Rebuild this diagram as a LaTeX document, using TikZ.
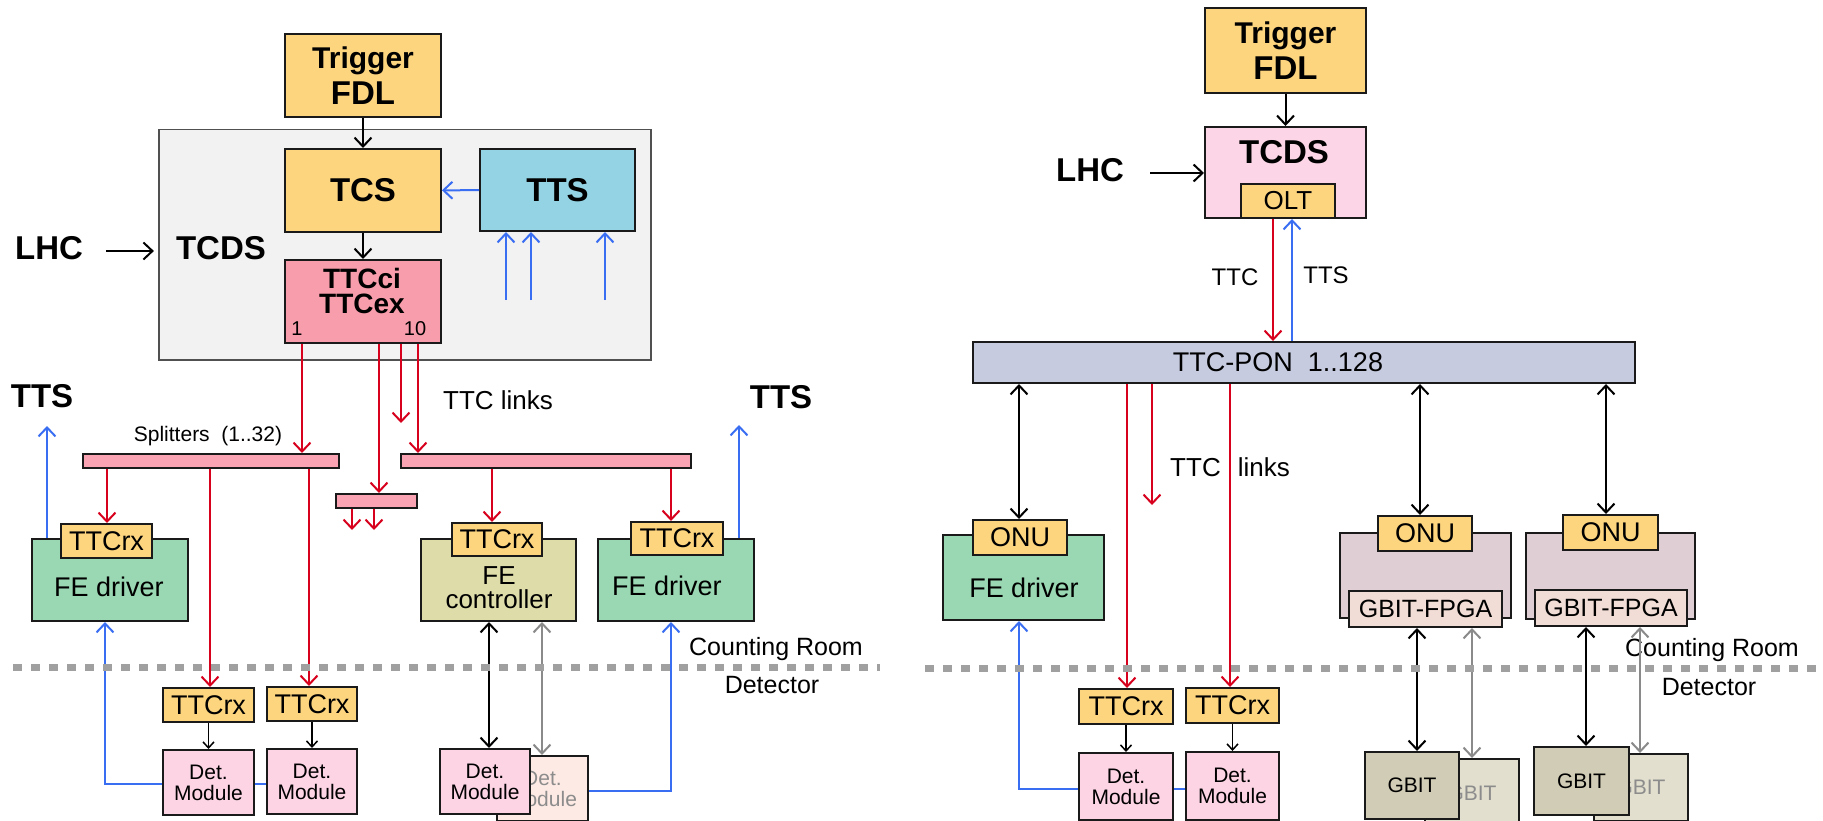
\documentclass[tikz,border=0pt]{standalone}
\usepackage{fontspec}
\setmainfont{Liberation Sans}
\usetikzlibrary{arrows.meta}
\definecolor{cOrange}{HTML}{FDD57F}
\definecolor{cBg}{HTML}{F2F2F2}
\definecolor{cBgLine}{HTML}{505050}
\definecolor{cTTS}{HTML}{93D3E3}
\definecolor{cTTCci}{HTML}{F89DAB}
\definecolor{cSplit}{HTML}{F9A3B3}
\definecolor{cGreen}{HTML}{9AD8B3}
\definecolor{cKhaki}{HTML}{DEDCA9}
\definecolor{cDet}{HTML}{FCD4E4}
\definecolor{cGhost}{HTML}{FDEAE4}
\definecolor{cTcds}{HTML}{FCD6E6}
\definecolor{cPon}{HTML}{C6CBDF}
\definecolor{cMauve}{HTML}{DFCED4}
\definecolor{cPeach}{HTML}{F2DDD6}
\definecolor{cGbit}{HTML}{D1CCB5}
\definecolor{cGbitB}{HTML}{E2DFCF}
\definecolor{cRed}{HTML}{D7001D}
\definecolor{cBlue}{HTML}{3A6EF2}
\definecolor{cGArr}{HTML}{8A8A8A}
\definecolor{cDash}{HTML}{A0A0A0}
\definecolor{cGTxt}{HTML}{8C8C8C}
\definecolor{cLine}{HTML}{1A1A1A}
\pgfdeclarelayer{bg}
\pgfsetlayers{bg,main}
\newcommand\placebox[7]{\node[#6,anchor=north west,minimum width={(#4)-(#2)},minimum height={(#5)-(#3)}] (#1) at (#2,#3) {#7};}
\tikzset{
  box/.style={draw=cLine, line width=2pt, inner sep=0pt, align=center},
  bgbox/.style={draw=cBgLine, line width=1.5pt, fill=cBg, inner sep=0pt},
  lbl/.style={inner sep=0pt, align=center},
  fB/.style={font=\fontsize{33}{36}\selectfont\bfseries},
  fTrig/.style={font=\fontsize{33}{36}\selectfont\bfseries},
  fTTC/.style={font=\fontsize{28}{25}\selectfont\bfseries},
  f27/.style={font=\fontsize{27}{27}\selectfont},
  f26/.style={font=\fontsize{26}{24}\selectfont},
  f25/.style={font=\fontsize{25}{25}\selectfont},
  f24/.style={font=\fontsize{24}{24}\selectfont},
  f21/.style={font=\fontsize{21}{21}\selectfont},
  f20/.style={font=\fontsize{20}{20}\selectfont},
  tipbig/.tip={Straight Barb[length=9pt,width=17pt]},
  tipsmall/.tip={Straight Barb[length=6pt,width=11pt]},
  redarr/.style={draw=cRed, line width=2pt, -tipbig},
  bluarr/.style={draw=cBlue, line width=2pt, -tipbig},
  blkarr/.style={draw=black, line width=2pt, -tipbig},
  smallarr/.style={draw=black, line width=1.5pt, -tipsmall},
  dblarr/.style={draw=black, line width=2pt, tipbig-tipbig},
  gdblarr/.style={draw=cGArr, line width=2pt, tipbig-tipbig},
  dashline/.style={draw=cDash, line width=7pt, dash pattern=on 9pt off 9pt},
}
\begin{document}
\begin{tikzpicture}[x=1pt,y=-1pt]
\useasboundingbox (0,0) rectangle (1823,821);
\clip (0,0) rectangle (1823,821);
% ---------------- coordinates for vertical connectors
\foreach \xx in {47,105,107,209,210,302,309,379,401,418,489,492,542,671,739,
  1019,1127,1152,1230,1273,1292,1417,1420,1472,1586,1606,1640}
  {\coordinate (x\xx) at (\xx,0);}

% ================= LEFT DIAGRAM =================
\placebox{tcdsbg}{158}{129}{650}{359}{bgbox}{}
\placebox{trigL}{284}{33}{440}{116}{box,fill=cOrange,fTrig}{{\fontsize{30}{36}\selectfont Trigger}\\FDL}
\placebox{tcs}{284}{148}{440}{231}{box,fill=cOrange,fB}{TCS}
\placebox{ttsL}{479}{148}{634}{230}{box,fill=cTTS,fB}{TTS}
\placebox{ttcci}{284}{259}{440}{342}{box,fill=cTTCci}{}
\node[lbl,fTTC] (ttcciT) at (362,291) {TTCci\\TTCex};
\node[lbl,f20] (port1) at (297,329) {1};
\node[lbl,f20] (port10) at (415,329) {10};
\node[lbl,fB] (lhcL) at (49,248) {LHC};
\node[lbl,fB] (tcdsLbl) at (221,248) {TCDS};
\draw[blkarr] ([xshift=23pt,yshift=-3pt]lhcL.east) -- ([xshift=-22pt,yshift=-3pt]tcdsLbl.west);
\draw[blkarr] (trigL) -- (tcs);
\draw[bluarr] (ttsL) -- (tcs);
\draw[blkarr] (tcs) -- (ttcci);
\coordinate (ti1) at (506,300);
\coordinate (ti2) at (531,300);
\coordinate (ti3) at (605,300);
\draw[bluarr] (ti1) -- (ti1 |- ttsL.south);
\draw[bluarr] (ti2) -- (ti2 |- ttsL.south);
\draw[bluarr] (ti3) -- (ti3 |- ttsL.south);

% splitters
\placebox{splL}{82}{453}{338}{467}{box,fill=cSplit}{}
\placebox{splM}{335}{493}{416}{507}{box,fill=cSplit}{}
\placebox{splR}{400}{453}{690}{467}{box,fill=cSplit}{}
\node[lbl,f21] (splLbl) at (208,436) {Splitters\ \ (1..32)};
\node[lbl,f26] (ttclinksL) at (498,400) {TTC links};
\draw[redarr] (ttcci.south -| x302) -- (splL.north -| x302);
\draw[redarr] (ttcci.south -| x379) -- (splM.north -| x379);
\coordinate (freeL) at (401,423);
\draw[redarr] (ttcci.south -| freeL) -- (freeL);
\draw[redarr] (ttcci.south -| x418) -- (splR.north -| x418);
\coordinate (sm1) at (352,530);
\coordinate (sm2) at (374,530);
\draw[redarr] (splM.south -| sm1) -- (sm1);
\draw[redarr] (splM.south -| sm2) -- (sm2);

% FE drivers / controller
\placebox{fedL}{31}{538}{187}{620}{box,fill=cGreen}{}
\node[lbl,f27] (fedLT) at (109,587) {FE driver};
\placebox{rxL}{60}{523}{151}{557}{box,fill=cOrange,f27}{TTCrx}
\placebox{fec}{420}{538}{575}{620}{box,fill=cKhaki}{}
\node[lbl,font=\fontsize{26}{24}\selectfont] (fecT) at (499,588) {FE\\controller};
\placebox{rxC}{451}{522}{541}{555}{box,fill=cOrange,f27}{TTCrx}
\placebox{fedR}{597}{538}{753}{620}{box,fill=cGreen}{}
\node[lbl,f27] (fedRT) at (667,586) {FE driver};
\placebox{rxR}{630}{521}{722}{554}{box,fill=cOrange,f27}{TTCrx}
\draw[redarr] (splL.south -| x107) -- (rxL.north -| x107);
\draw[redarr] (splR.south -| x492) -- (rxC.north -| x492);
\draw[redarr] (splR.south -| x671) -- (rxR.north -| x671);
\node[lbl,fB] (ttsOutL) at (42,396) {TTS};
\node[lbl,fB] (ttsOutR) at (781,397) {TTS};
\coordinate (tsoL) at (47,426);
\coordinate (tsoR) at (739,425);
\draw[bluarr] (fedL.north -| tsoL) -- (tsoL);
\draw[bluarr] (fedR.north -| tsoR) -- (tsoR);

% detector modules
\placebox{rx1}{162}{687}{253}{721}{box,fill=cOrange,f27}{TTCrx}
\placebox{rx2}{266}{686}{356}{720}{box,fill=cOrange,f27}{TTCrx}
\placebox{dm1}{162}{749}{253}{814}{box,fill=cDet,f21}{Det.\\Module}
\placebox{dm2}{266}{748}{356}{813}{box,fill=cDet,f21}{Det.\\Module}
\draw[redarr] (splL.south -| x210) -- (rx1.north -| x210);
\draw[redarr] (splL.south -| x309) -- (rx2.north -| x309);
\draw[smallarr] (rx1) -- (dm1);
\draw[smallarr] (rx2) -- (dm2);
\begin{pgfonlayer}{bg}
\draw[bluarr] ([yshift=-2pt]dm2.west) -| (fedL.south -| x105);
\end{pgfonlayer}
\placebox{dmG}{496}{755}{587}{820}{box,fill=cGhost,f21,text=cGTxt}{Det.\\Module}
\placebox{dm3}{439}{748}{529}{813}{box,fill=cDet,f21}{Det.\\Module}
\draw[dblarr] (fec.south -| x489) -- (dm3.north -| x489);
\draw[gdblarr] (fec.south -| x542) -- (dmG.north -| x542);
\draw[bluarr] ([yshift=-2.5pt]dmG.east) -| (fedR.south -| x671);

% ================= RIGHT DIAGRAM =================
\placebox{trigR}{1204}{7}{1365}{92}{box,fill=cOrange,fTrig}{{\fontsize{30}{36}\selectfont Trigger}\\FDL}
\placebox{tcdsR}{1204}{126}{1365}{217}{box,fill=cTcds}{}
\node[lbl,fB] (tcdsRT) at (1284,152) {TCDS};
\placebox{olt}{1240}{183}{1334}{217}{box,fill=cOrange,f26}{OLT}
\node[lbl,fB] (lhcR) at (1090,170) {LHC};
\coordinate (lhcRa) at (1150,173);
\draw[blkarr] (lhcRa) -- (lhcRa -| tcdsR.west);
\draw[blkarr] (trigR) -- (tcdsR);
\placebox{pon}{972}{341}{1634}{382}{box,fill=cPon}{}
\node[lbl,f27] (ponT) at (1278,362) {TTC-PON\ \ 1..128};
\draw[redarr] (olt.south -| x1273) -- (pon.north -| x1273);
\draw[bluarr] (pon.north -| x1292) -- (olt.south -| x1292);
\node[lbl,f24] (ttcR) at (1235,277) {TTC};
\node[lbl,f24] (ttsR) at (1326,275) {TTS};

\placebox{fedR2}{942}{534}{1103}{619}{box,fill=cGreen}{}
\node[lbl,f27] (fedR2T) at (1024,588) {FE driver};
\placebox{onu1}{972}{519}{1066}{554}{box,fill=cOrange,f27}{ONU}
\draw[dblarr] (pon.south -| x1019) -- (onu1.north -| x1019);

\placebox{rxA}{1078}{688}{1172}{723}{box,fill=cOrange,f27}{TTCrx}
\placebox{rxB}{1185}{687}{1278}{722}{box,fill=cOrange,f27}{TTCrx}
\placebox{dmA}{1078}{752}{1172}{819}{box,fill=cDet,f21}{Det.\\Module}
\placebox{dmB}{1185}{751}{1278}{819}{box,fill=cDet,f21}{Det.\\Module}
\node[lbl,f26] (ttclinksR) at (1230,467) {TTC\hspace{17pt}links};
\draw[redarr] (pon.south -| x1127) -- (rxA.north -| x1127);
\coordinate (freeR) at (1152,505);
\draw[redarr] (pon.south -| freeR) -- (freeR);
\draw[redarr] (pon.south -| x1230) -- (rxB.north -| x1230);
\draw[smallarr] (rxA) -- (dmA);
\draw[smallarr] (rxB) -- (dmB);
\begin{pgfonlayer}{bg}
\draw[bluarr] ([yshift=-3pt]dmB.west) -| (fedR2.south -| x1019);
\end{pgfonlayer}

\placebox{gc1}{1339}{532}{1510}{617}{box,fill=cMauve}{}
\placebox{onu2}{1377}{515}{1471}{550}{box,fill=cOrange,f27}{ONU}
\placebox{gf1}{1348}{590}{1501}{626}{box,fill=cPeach,f25}{GBIT-FPGA}
\placebox{gc2}{1525}{532}{1694}{618}{box,fill=cMauve}{}
\placebox{onu3}{1562}{514}{1657}{549}{box,fill=cOrange,f27}{ONU}
\placebox{gf2}{1534}{589}{1686}{625}{box,fill=cPeach,f25}{GBIT-FPGA}
\draw[dblarr] (pon.south -| x1420) -- (onu2.north -| x1420);
\draw[dblarr] (pon.south -| x1606) -- (onu3.north -| x1606);

\placebox{bk1}{1424}{758}{1518}{826}{box,fill=cGbitB,f21,text=cGTxt}{GBIT}
\placebox{fr1}{1364}{751}{1458}{818}{box,fill=cGbit,f21}{GBIT}
\placebox{bk2}{1593}{753}{1687}{820}{box,fill=cGbitB,f21,text=cGTxt}{GBIT}
\placebox{fr2}{1533}{746}{1628}{814}{box,fill=cGbit,f21}{GBIT}

% counting room / detector
\node[lbl,f25] (crL) at (776,649) {Counting Room};
\node[lbl,f25] (detL) at (772,685) {Detector};
\node[lbl,f25] (crR) at (1712,650) {Counting Room};
\node[lbl,f25] (detR) at (1709,687) {Detector};

\draw[dblarr] (gf1.south -| x1417) -- (fr1.north -| x1417);
\draw[gdblarr] (gf1.south -| x1472) -- (bk1.north -| x1472);
\draw[dblarr] (gf2.south -| x1586) -- (fr2.north -| x1586);
\draw[gdblarr] (gf2.south -| x1640) -- (bk2.north -| x1640);

% dashed boundary
\draw[dashline] (13,667) -- (880,667);
\draw[dashline] (925,668) -- (1823,668);
\end{tikzpicture}
\end{document}
